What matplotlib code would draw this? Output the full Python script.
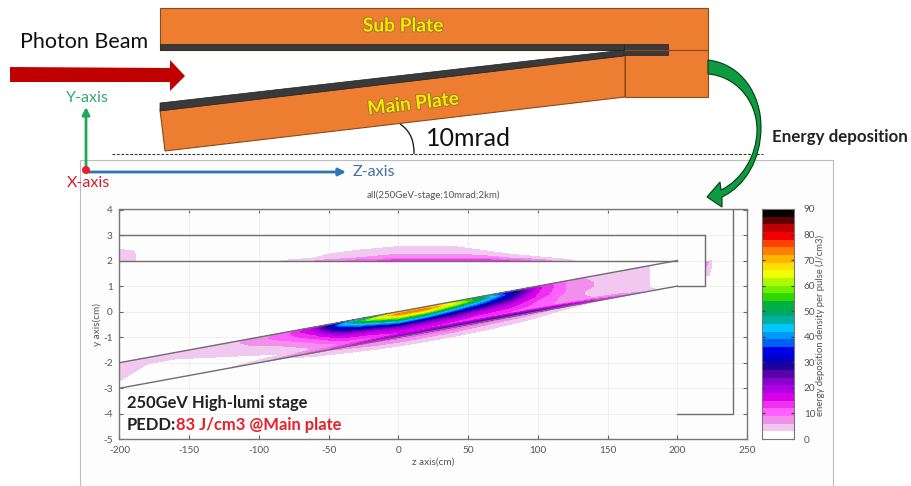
import numpy as np
import matplotlib
matplotlib.use('Agg')
import matplotlib.pyplot as plt
import matplotlib.patheffects as pe
from matplotlib.colors import ListedColormap, BoundaryNorm
from matplotlib.patches import Polygon, Rectangle, Circle, PathPatch
from matplotlib.path import Path

plt.rcParams['font.family'] = ['Lato', 'DejaVu Sans']
plt.rcParams['axes.unicode_minus'] = False

# Energy deposition (J/cm3)
# main plate: columns along z, rows are depth under the upper face (cm)
main_z = [-200, -180, -160, -140, -120, -100, -80, -60, -40, -20, 0, 20, 40, 60, 80, 100, 120, 140, 160, 180, 200]
main_depth = [0, .1, .25, .4, .55, .7, .85, .98, 1.02, 1.15, 1.3, 1.5]
main_edep = [
    [5, 5, 5, 5, 4, 3, 1, 0, 0, 0, 0, 0],
    [3.5, 3.5, 3, 2, 1, 0, 0, 0, 0, 0, 0, 0],
    [3.5, 3.5, 3, 2, 1, 0, 0, 0, 0, 0, 0, 0],
    [4, 4, 3.5, 3, 2, 1, 0, 0, 0, 0, 0, 0],
    [5, 5, 4, 3.5, 3, 1, 1, 3, 0, 0, 0, 0],
    [7, 8, 7, 5, 4, 3, 2, 5, 2, 0, 0, 0],
    [10, 11, 10, 8, 6, 4, 3, 7, 3, 1, 0, 0],
    [17, 19, 16, 13, 10, 8, 6, 10, 5, 3, 0, 0],
    [30, 42, 33, 24, 17, 13, 9, 14, 7, 4, 2, 0],
    [40, 60, 44, 30, 20, 15, 11, 18, 9, 6, 3, 0],
    [62, 74, 58, 42, 26, 19, 14, 22, 10, 7, 4, 0],
    [66, 74, 57, 40, 25, 18, 14, 24, 11, 7, 4, 1],
    [60, 64, 48, 33, 24, 17, 13, 26, 11, 7, 4, 1],
    [46, 50, 38, 28, 20, 15, 12, 27, 10, 6, 4, 0],
    [30, 33, 28, 22, 17, 14, 11, 27, 9, 5, 3, 0],
    [15, 16, 15, 14, 12, 11, 10, 25, 7, 4, 2, 0],
    [8, 9, 9, 9, 8, 8, 8, 22, 5, 2, 0, 0],
    [5, 5, 6, 6, 5, 5, 6, 16, 3, 0, 0, 0],
    [3.5, 4, 4, 4, 4, 4, 4, 10, 1, 0, 0, 0],
    [3, 3, 3, 3, 3, 3, 3, 4, 0, 0, 0, 0],
    [1, 1, 1, 1, 1, 1, 0, 0, 0, 0, 0, 0],
]
# sub plate: rows are height above y=2
sub_z = [-200, -190, -185, -100, -60, -30, 0, 20, 40, 60, 80, 100, 120, 140, 160]
sub_y = [2, 2.1, 2.25, 2.4, 2.55, 2.7]
sub_edep = [
    [4, 4, 0, 1, 6, 10, 14, 15, 15, 14, 12, 8, 4, 1, 0],
    [5, 4, 0, 0, 3, 6, 8, 9, 9, 8, 6, 4, 2, 0, 0],
    [4, 4, 0, 0, 2, 5, 6, 6, 6, 5, 3, 1, 0, 0, 0],
    [3.5, 3, 0, 0, 1, 3, 4, 4, 4, 3, 1, 0, 0, 0, 0],
    [0, 0, 0, 0, 0, 1, 3, 3, 3, 1, 0, 0, 0, 0, 0],
    [0, 0, 0, 0, 0, 0, 0, 0, 0, 0, 0, 0, 0, 0, 0],
]
# small spot behind the end of the sub plate
end_z = [220, 223, 226]
end_y = [1.4, 1.7, 2.0]
end_edep = [[3.5, 3, 0], [6, 5, 0], [8, 6, 0]]

# plate outlines in chart units
outline_upper_z = [-200, 220, 220, 200]
outline_upper_y = [3, 3, 1, 1]
outline_gap_z = [-200, 200]
outline_gap_y = [2, 2]
main_top_z = [-200, 200]
main_top_y = [-2, 2]
main_low_z = [-200, 200]
main_low_y = [-3, 1]
outer_z = [200, 240, 240]
outer_y = [-4, -4, 4]

band_colors = ['#ffffff', '#f0c8f0', '#f090ea', '#ff60ff', '#f030f0', '#d800e8', '#b000e8', '#8800d0',
               '#5a00a8', '#1c00a0', '#0000c8', '#0000e8', '#0060f0', '#0098f8', '#00c8ff', '#00b0a0',
               '#00a868', '#00b040', '#30d800', '#70f000', '#b0f800', '#f0ff00', '#ffe000', '#ffb400',
               '#ff8000', '#ff4000', '#f00000', '#c00000', '#600000', '#000000']
band_edges = np.arange(0, 93, 3)

orange = '#ed7d31'
brown = '#8a4a1a'
dark = '#3a3a3a'
gray = '#666666'

fig = plt.figure(figsize=(9.12, 4.86), dpi=100)
W, H = 912.0, 486.0

# everything outside the chart is placed in picture pixels
ax0 = fig.add_axes([0, 0, 1, 1], zorder=1)
ax0.set_xlim(0, 912)
ax0.set_ylim(486, 0)
ax0.axis('off')
ax0.patch.set_alpha(0)

ax0.add_patch(Rectangle((80, 160), 753, 340, fc='#fdfdfd', ec='#bdbdbd', lw=0.8))

# plates
ax0.add_patch(Polygon([(160, 8), (708, 8), (708, 97), (625, 97), (625, 50), (160, 50)], fc=orange, ec=brown, lw=0.8))
ax0.add_patch(Polygon([(160, 110), (625, 55), (625, 97), (165, 151)], fc=orange, ec=brown, lw=0.8))
ax0.plot([625, 708], [50, 50], color=brown, lw=0.8)
ax0.add_patch(Polygon([(160, 44), (624, 44), (624, 50), (160, 50)], fc=dark, ec='#222222', lw=0.5))
ax0.add_patch(Polygon([(624, 44), (668, 44), (668, 55), (624, 55)], fc=dark, ec='#222222', lw=0.5))
ax0.add_patch(Polygon([(160, 103), (624, 50), (624, 56), (160, 111)], fc=dark, ec='#222222', lw=0.5))

shadow = [pe.withStroke(linewidth=1.2, foreground='#8a7a30')]
ax0.text(403, 26, 'Sub Plate', color='#ffe600', fontsize=13.8, fontweight='bold', ha='center', va='center', path_effects=shadow)
ax0.text(413, 104, 'Main Plate', color='#ffe600', fontsize=13.8, fontweight='bold', ha='center', va='center', rotation=6.5, path_effects=shadow)

# beam arrow
ax0.add_patch(Polygon([(10, 67), (170, 68), (170, 60), (185, 76), (170, 91), (170, 82), (10, 82)], fc='#c00000', ec='none'))
ax0.text(20, 42, 'Photon Beam', fontsize=15.5, color='#111111', ha='left', va='center')

# coordinate axes
ax0.annotate('', xy=(86, 107), xytext=(86, 171), arrowprops=dict(arrowstyle='-|>', color='#1fa855', lw=2, mutation_scale=11, shrinkA=0, shrinkB=0))
ax0.annotate('', xy=(346, 172), xytext=(86, 172), arrowprops=dict(arrowstyle='-|>', color='#2e75b6', lw=2, mutation_scale=11, shrinkA=0, shrinkB=0))
ax0.add_patch(Circle((86, 170), 4, fc='#ee1c25', ec='none', zorder=5))
ax0.text(87, 98, 'Y-axis', color='#35a870', fontsize=11.5, ha='center', va='center')
ax0.text(88, 183, 'X-axis', color='#d0202a', fontsize=11.5, ha='center', va='center')
ax0.text(353, 172, 'Z-axis', color='#44709c', fontsize=11.5, ha='left', va='center')

# 10 mrad mark
ax0.plot([112, 763], [154, 154], color='#333333', lw=0.8, ls=(0, (2.5, 1.5)))
ax0.add_patch(PathPatch(Path([(400, 124), (412, 132), (414, 143), (414, 154)], [Path.MOVETO, Path.CURVE4, Path.CURVE4, Path.CURVE4]), fc='none', ec='#222222', lw=1))
ax0.text(426, 138, '10mrad', fontsize=18, color='#111111', ha='left', va='center')
ax0.text(772, 137, 'Energy deposition', fontsize=12.2, fontweight='bold', color='#222222', ha='left', va='center')

# curved green arrow
arrow_pts = [(708, 60), (742, 64), (761, 95), (761, 127), (761, 160), (745, 186), (722, 197),
             (722, 207), (707, 197), (720, 182), (721, 190),
             (742, 180), (757, 155), (757, 130), (757, 100), (735, 76), (708, 74), (708, 60)]
arrow_codes = [Path.MOVETO, Path.CURVE4, Path.CURVE4, Path.CURVE4, Path.CURVE4, Path.CURVE4, Path.CURVE4,
               Path.LINETO, Path.LINETO, Path.LINETO, Path.LINETO,
               Path.CURVE4, Path.CURVE4, Path.CURVE4, Path.CURVE4, Path.CURVE4, Path.CURVE4, Path.CLOSEPOLY]
ax0.add_patch(PathPatch(Path(arrow_pts, arrow_codes), fc='#0e9a3e', ec='#063a18', lw=0.8, zorder=6))

# chart
ax = fig.add_axes([119.5 / W, 1 - 439.3 / H, (747 - 119.5) / W, (439.3 - 209.5) / H], zorder=2)
ax.patch.set_alpha(0)
cmap = ListedColormap(band_colors)
norm = BoundaryNorm(band_edges, cmap.N)

z_grid, d_grid = np.meshgrid(main_z, main_depth, indexing='ij')
y_grid = z_grid / 100.0 - d_grid
fill_levels = band_edges[1:]
ax.contourf(z_grid, y_grid, np.array(main_edep, dtype=float), levels=fill_levels, cmap=cmap, norm=norm, zorder=1)
ax.contourf(sub_z, sub_y, np.array(sub_edep, dtype=float), levels=fill_levels, cmap=cmap, norm=norm, zorder=1)
ax.contourf(end_z, end_y, np.array(end_edep, dtype=float), levels=fill_levels, cmap=cmap, norm=norm, zorder=1)

line_kw = dict(color='#6e6e6e', lw=1.0, zorder=3)
ax.plot(outline_upper_z, outline_upper_y, **line_kw)
ax.plot(outline_gap_z, outline_gap_y, **line_kw)
ax.plot(main_top_z, main_top_y, **line_kw)
ax.plot(main_low_z, main_low_y, **line_kw)
ax.plot(outer_z, outer_y, **line_kw)

ax.set_xlim(-200, 250)
ax.set_ylim(-5, 4)
ax.set_xticks(np.arange(-200, 251, 50))
ax.set_yticks(np.arange(-5, 5, 1))
ax.grid(True, color='#eeeeee', lw=0.6, zorder=0)
ax.set_axisbelow(True)
ax.tick_params(direction='in', length=3, width=0.8, color=gray, labelcolor='#555555', labelsize=7.2, top=True, right=True, pad=5)
for s in ax.spines.values():
    s.set_color('#777777')
    s.set_linewidth(1.0)
ax.set_title('all(250GeV-stage;10mrad;2km)', fontsize=7, color='#555555', pad=8)
ax.set_xlabel('z axis(cm)', fontsize=7.2, color='#555555', labelpad=2)
ax.set_ylabel('y axis(cm)', fontsize=7.2, color='#555555', labelpad=1)

# notes go on the figure so they stay above the chart axes
fig.text(127 / W, 1 - 403 / H, '250GeV High-lumi stage', fontsize=11.9, fontweight='bold', color='#222222', ha='left', va='center', zorder=8)
label = fig.text(127 / W, 1 - 425 / H, 'PEDD:', fontsize=11.9, fontweight='bold', color='#222222', ha='left', va='center', zorder=8)
fig.canvas.draw()
bb = label.get_window_extent()
fig.text(bb.x1 / W, 1 - 425 / H, '83 J/cm3 @Main plate', fontsize=11.9, fontweight='bold', color='#e8202a', ha='left', va='center', zorder=8)

# colour scale
cax = fig.add_axes([762 / W, 1 - 439 / H, 32 / W, 230 / H], zorder=2)
cb = fig.colorbar(plt.cm.ScalarMappable(norm=norm, cmap=cmap), cax=cax, spacing='proportional', ticks=np.arange(0, 91, 10), drawedges=False)
cb.ax.tick_params(direction='in', length=2.5, width=0.8, color='#333333', labelcolor='#555555', labelsize=7.2, pad=7, left=True, right=True, which='major')
cb.ax.minorticks_off()
cb.outline.set_edgecolor('#777777')
cb.outline.set_linewidth(0.8)
fig.text(820.5 / W, 1 - 325 / H, 'energy deposition density per pulse (J/cm3)', fontsize=6.8, color='#555555', rotation=90, ha='center', va='center', zorder=8)

fig.savefig('out.png', dpi=100)
